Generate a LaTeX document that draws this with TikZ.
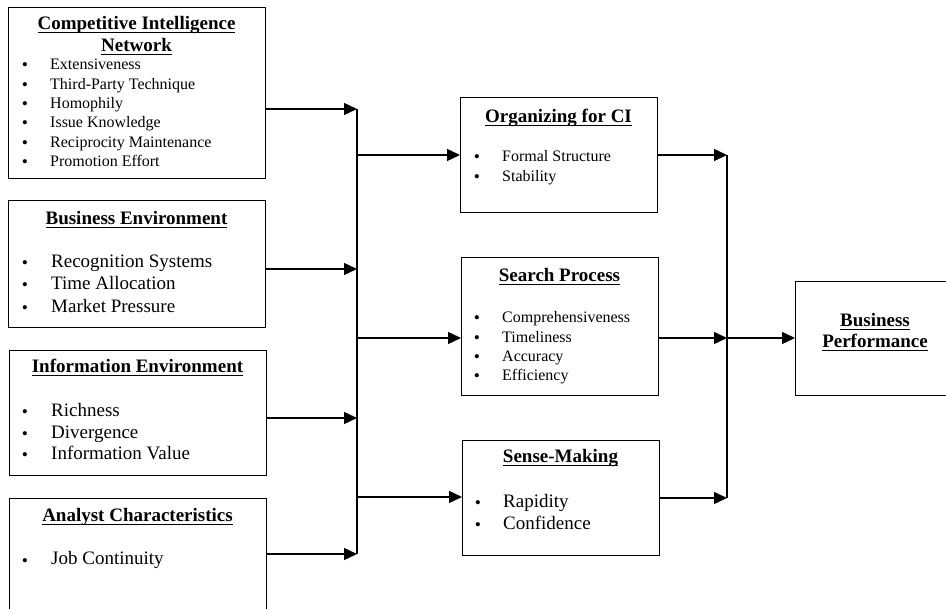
\documentclass[tikz,border=0pt]{standalone}
\usepackage{fontspec}
\setmainfont{Liberation Serif}
\usetikzlibrary{arrows.meta}
\newcommand\myul[1]{\setbox0\hbox{#1}\rlap{\rule[-3.2pt]{\wd0}{1.3pt}}\box0}
\begin{document}
\begin{tikzpicture}[x=1pt,y=-1pt,
  box/.style={draw, line width=1.4pt, inner sep=0pt, anchor=north west},
  ttl/.style={font=\fontsize{19}{22}\selectfont\bfseries, inner sep=0pt, anchor=base},
  big/.style={font=\fontsize{19}{22}\selectfont, inner sep=0pt, anchor=base west},
  sml/.style={font=\fontsize{16}{19}\selectfont, inner sep=0pt, anchor=base west},
  bul/.style={font=\fontsize{17.5}{19}\selectfont, inner sep=0pt, anchor=base, yshift=-1pt},
  arr/.style={line width=1.4pt, -{Triangle[length=13pt,width=12pt]}},
  ln/.style={line width=1.4pt}]
\clip (0,0) rectangle (946,609);
\useasboundingbox (0,0) rectangle (946,609);
% boxes
\node[box, minimum width=257pt, minimum height=171pt] (cin) at (8,7) {};
\node[box, minimum width=257pt, minimum height=127pt] (benv) at (8,200) {};
\node[box, minimum width=257pt, minimum height=125pt] (ienv) at (9,350) {};
\node[box, minimum width=257pt, minimum height=130pt] (anal) at (9,498) {};
\node[box, minimum width=197pt, minimum height=115pt] (org) at (460,97) {};
\node[box, minimum width=197pt, minimum height=138pt] (srch) at (461,257) {};
\node[box, minimum width=197pt, minimum height=115pt] (sense) at (462,440) {};
\node[box, minimum width=160pt, minimum height=114pt] (bp) at (795,281) {};
% box 1
\node[ttl] (t1a) at (136.5,30) {\myul{Competitive Intelligence}};
\node[ttl] (t1b) at (136.5,52) {\myul{Network}};
\node[bul] (u11) at (25,70) {\textbullet};
\node[sml] (i11) at (50,70) {Extensiveness};
\node[bul] (u12) at (25,89.3) {\textbullet};
\node[sml] (i12) at (50,89.3) {Third-Party Technique};
\node[bul] (u13) at (25,108.6) {\textbullet};
\node[sml] (i13) at (50,108.6) {Homophily};
\node[bul] (u14) at (25,127.9) {\textbullet};
\node[sml] (i14) at (50,127.9) {Issue Knowledge};
\node[bul] (u15) at (25,147.2) {\textbullet};
\node[sml] (i15) at (50,147.2) {Reciprocity Maintenance};
\node[bul] (u16) at (25,166.5) {\textbullet};
\node[sml] (i16) at (50,166.5) {Promotion Effort};
% box 2
\node[ttl] (t2) at (136.5,225) {\myul{Business Environment}};
\node[bul] (u21) at (25,268) {\textbullet};
\node[big] (i21) at (51,268) {Recognition Systems};
\node[bul] (u22) at (25,290) {\textbullet};
\node[big] (i22) at (51,290) {Time Allocation};
\node[bul] (u23) at (25,313) {\textbullet};
\node[big] (i23) at (51,313) {Market Pressure};
% box 3
\node[ttl] (t3) at (137.5,373) {\myul{Information Environment}};
\node[bul] (u31) at (25,417) {\textbullet};
\node[big] (i31) at (51,417) {Richness};
\node[bul] (u32) at (25,438.5) {\textbullet};
\node[big] (i32) at (51,438.5) {Divergence};
\node[bul] (u33) at (25,460) {\textbullet};
\node[big] (i33) at (51,460) {Information Value};
% box 4
\node[ttl] (t4) at (137.5,522) {\myul{Analyst Characteristics}};
\node[bul] (u41) at (25,565) {\textbullet};
\node[big] (i41) at (51,565) {Job Continuity};
% organizing
\node[ttl] (t5) at (558.5,123) {\myul{Organizing for CI}};
\node[bul] (u51) at (477,162) {\textbullet};
\node[sml] (i51) at (502,162) {Formal Structure};
\node[bul] (u52) at (477,182) {\textbullet};
\node[sml] (i52) at (502,182) {Stability};
% search
\node[ttl] (t6) at (559.5,282) {\myul{Search Process}};
\node[bul] (u61) at (477,323) {\textbullet};
\node[sml] (i61) at (502,323) {Comprehensiveness};
\node[bul] (u62) at (477,343) {\textbullet};
\node[sml] (i62) at (502,343) {Timeliness};
\node[bul] (u63) at (477,362) {\textbullet};
\node[sml] (i63) at (502,362) {Accuracy};
\node[bul] (u64) at (477,381) {\textbullet};
\node[sml] (i64) at (502,381) {Efficiency};
% sense-making
\node[ttl] (t7) at (560.5,463) {\myul{Sense-Making}};
\node[bul] (u71) at (478,508) {\textbullet};
\node[big] (i71) at (503,508) {Rapidity};
\node[bul] (u72) at (478,530) {\textbullet};
\node[big] (i72) at (503,530) {Confidence};
% business performance
\node[ttl] (t8a) at (875,327) {\myul{Business}};
\node[ttl] (t8b) at (875,348) {\myul{Performance}};
% bus coordinates
\coordinate (L1) at (357,109);
\coordinate (L2) at (357,269);
\coordinate (L3) at (357,418);
\coordinate (L4) at (357,554);
\coordinate (Lo) at (357,155);
\coordinate (Ls) at (357,338);
\coordinate (Lm) at (357,497);
\coordinate (R1) at (727,155);
\coordinate (R2) at (727,338);
\coordinate (R3) at (727,498);
% connectors
\draw[arr] (cin.east |- L1) -- (L1);
\draw[arr] (benv.east |- L2) -- (L2);
\draw[arr] (ienv.east |- L3) -- (L3);
\draw[arr] (anal.east |- L4) -- (L4);
\draw[ln] (L1) -- (L4);
\draw[arr] (Lo) -- (org.west |- Lo);
\draw[arr] (Ls) -- (srch.west |- Ls);
\draw[arr] (Lm) -- (sense.west |- Lm);
\draw[arr] (org.east |- R1) -- (R1);
\draw[arr] (srch.east |- R2) -- (R2);
\draw[arr] (sense.east |- R3) -- (R3);
\draw[ln] (R1) -- (R3);
\draw[arr] (R2) -- (bp.west |- R2);
\end{tikzpicture}
\end{document}
